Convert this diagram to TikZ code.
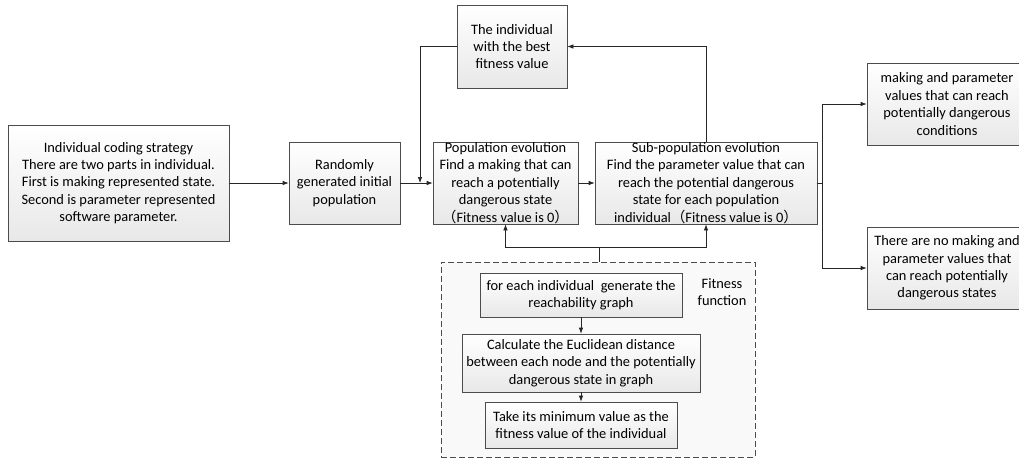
\documentclass[tikz,border=0pt]{standalone}
\usepackage{fontspec}
\setmainfont{Carlito}
\newfontfamily\cjk{Noto Sans CJK SC}
\usepackage{tikz}
\usetikzlibrary{arrows.meta,shadows}

\begin{document}
\begin{tikzpicture}[x=1pt, y=-1pt,
    box/.style={draw=gray!60!black, line width=0.7pt, top color=white, bottom color=gray!18,
      drop shadow={shadow xshift=1.2pt, shadow yshift=-1.2pt, opacity=0.25},
      align=center, inner sep=0pt, font=\fontsize{14.4}{17.4}\selectfont},
    arr/.style={draw=gray!30!black, line width=0.7pt, -{Latex[length=6pt,width=4.5pt]}},
    ln/.style={draw=gray!30!black, line width=0.7pt}]
    \clip (0,0) rectangle (1019,461);
    \fill[white] (0,0) rectangle (1019,461);
    % fitness function frame
    \node[draw=gray!60!black, dash pattern=on 6pt off 3pt, line width=0.7pt, fill=gray!5, minimum width=314pt, minimum height=195pt] (fit) at (598,359.5) {};
    \node[font=\fontsize{14.4}{17.4}\selectfont, align=center] (fitlbl) at (722,292) {Fitness\\function};
    % main chain
    \node[box, minimum width=221pt, minimum height=116pt] (code) at (118.5,183)
      {Individual coding strategy\\There are two parts in individual.\\First is making represented state.\\Second is parameter represented\\software parameter.};
    \node[box, minimum width=111pt, minimum height=82pt] (init) at (344.5,183)
      {Randomly\\generated initial\\population};
    \node[box, minimum width=145pt, minimum height=82pt] (popevo) at (505.5,183)
      {Population evolution\\Find a making that can\\reach a potentially\\dangerous state\\{\cjk （}Fitness value is 0{\cjk ）}};
    \node[box, minimum width=222pt, minimum height=82pt] (subevo) at (706,183)
      {Sub-population evolution\\Find the parameter value that can\\reach the potential dangerous\\state for each\ population\\individual{\cjk （}Fitness value is 0{\cjk ）}};
    \node[box, minimum width=110pt, minimum height=83pt] (best) at (512,46.5)
      {The individual\\with the best\\fitness value};
    \node[box, minimum width=160pt, minimum height=82pt] (found) at (947,104)
      {making and parameter\\values that can reach\\potentially dangerous\\conditions};
    \node[box, minimum width=160pt, minimum height=82pt] (none) at (947,268)
      {There are no making and\\parameter values that\\can reach potentially\\dangerous states};
    % inside the frame
    \node[box, minimum width=202pt, minimum height=44pt] (graph) at (581,295)
      {for each individual\ \ generate the\\reachability graph};
    \node[box, minimum width=238pt, minimum height=58pt] (dist) at (581,363)
      {Calculate the Euclidean distance\\between each node and the potentially\\dangerous state in graph};
    \node[box, minimum width=192pt, minimum height=46pt] (minv) at (581,425)
      {Take its minimum value as the\\fitness value of the individual};
    \coordinate (merge) at (420,183);
    \coordinate (split) at (822,183);
    \coordinate (fj) at (599,247);
    % connectors
    \draw[arr] (code) -- (init);
    \draw[arr] (init) -- (popevo);
    \draw[arr] (popevo) -- (subevo);
    \draw[arr] (best.west) -| (merge);
    \draw[arr] (subevo.north) |- (best.east);
    \draw[ln] (subevo.east) -- (split);
    \draw[arr] (split) |- (found.west);
    \draw[arr] (split) |- (none.west);
    \draw[ln] (fit.north -| fj) -- (fj);
    \draw[arr] (fj) -| (popevo.south);
    \draw[arr] (fj) -| (subevo.south);
    \draw[arr] (graph) -- (dist);
    \draw[arr] (dist) -- (minv);
\end{tikzpicture}
\end{document}
